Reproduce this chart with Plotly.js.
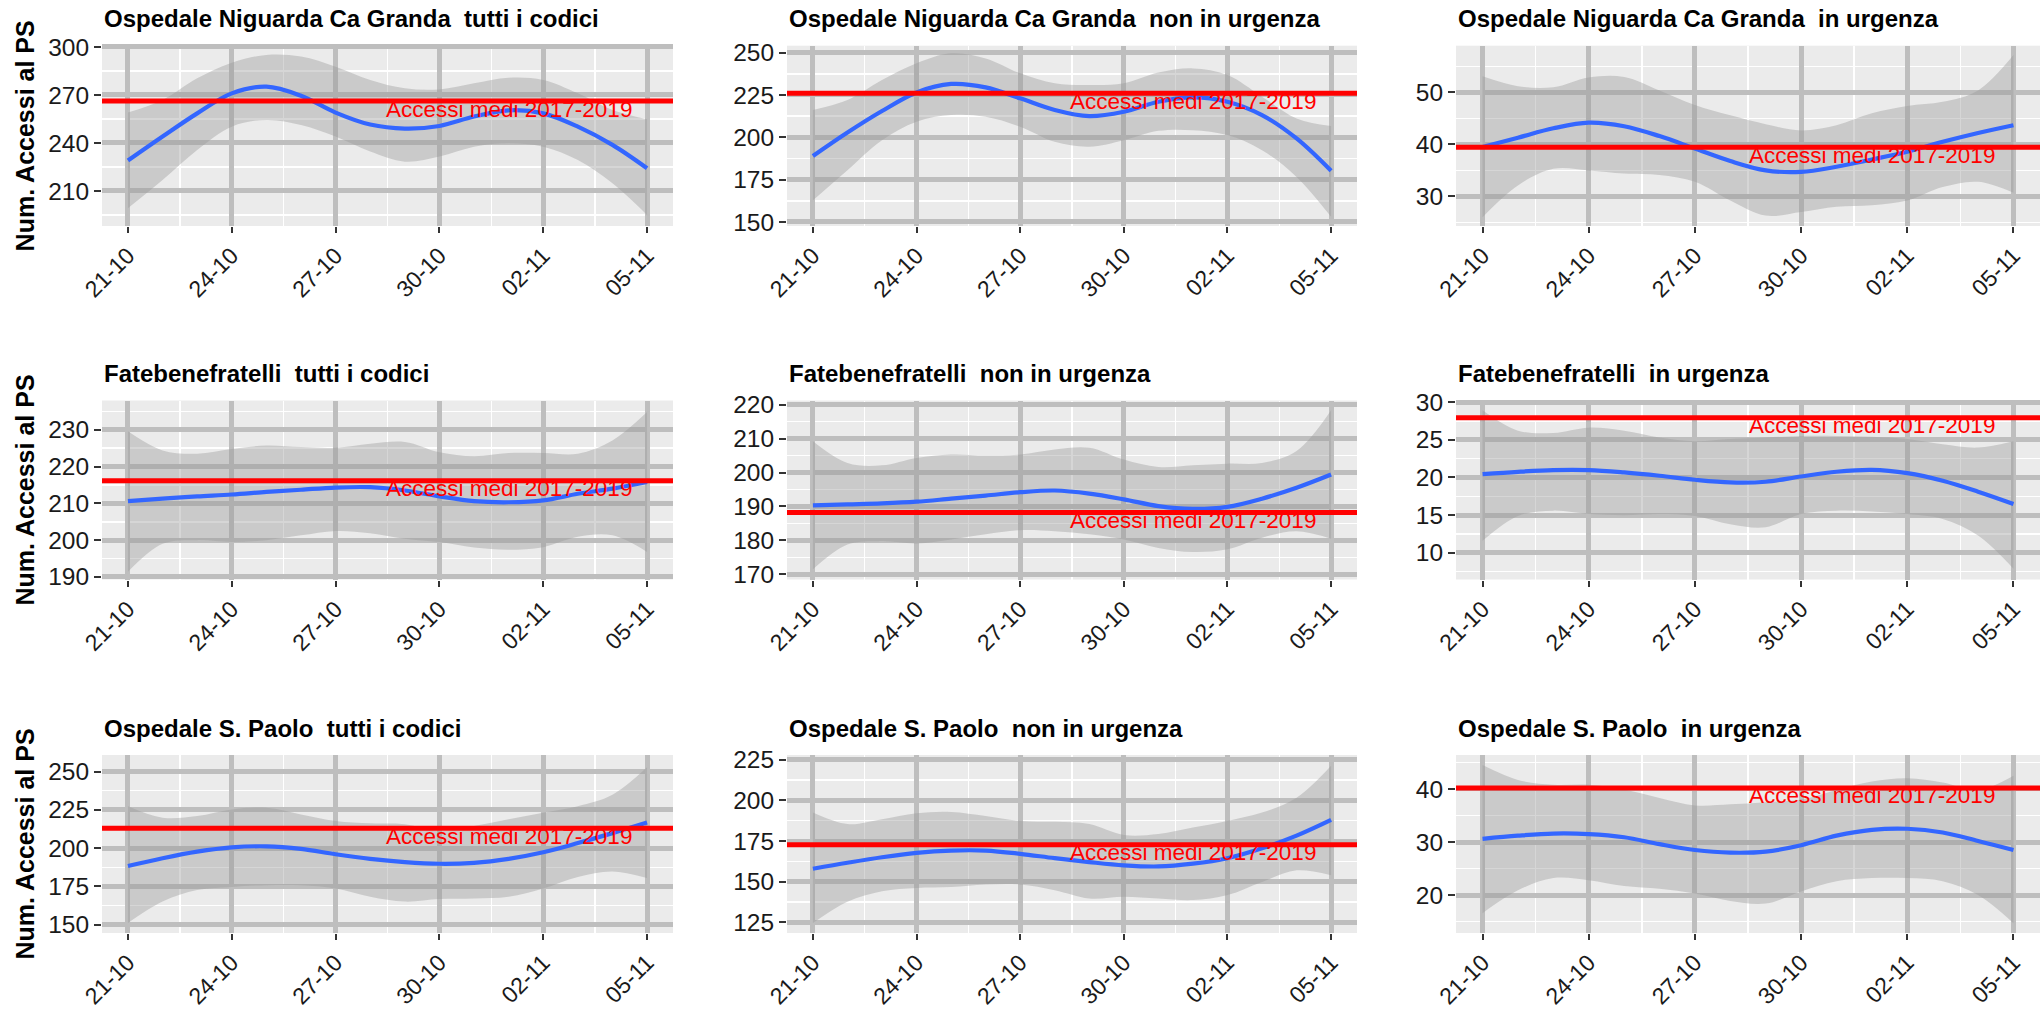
<!DOCTYPE html>
<html><head><meta charset="utf-8">
<script src="https://cdn.plot.ly/plotly-3.0.1.min.js"></script>
<style>html,body{margin:0;padding:0;background:#fff}#chart{width:2042px;height:1011px}</style>
</head><body><div id="chart"></div>
<script>
// ---------- data ----------
const dates = ['2020-10-21','2020-10-22','2020-10-23','2020-10-24','2020-10-25','2020-10-26','2020-10-27','2020-10-28',
               '2020-10-29','2020-10-30','2020-10-31','2020-11-01','2020-11-02','2020-11-03','2020-11-04','2020-11-05'];
const hospitals = ['Ospedale Niguarda Ca Granda', 'Fatebenefratelli', 'Ospedale S. Paolo'];
const codes = ['tutti i codici', 'non in urgenza', 'in urgenza'];
const refLabel = 'Accessi medi 2017-2019';
const refLabelDate = '2020-11-01';
const yAxisTitle = 'Num. Accessi al PS';

// Niguarda
const nigTuttiFit = [229, 244, 258.5, 271, 275.2, 269.5, 259, 251.5, 249, 250.6, 256.5, 260.4, 258.5, 250.2, 238.8, 224.2];
const nigTuttiHi  = [259, 266.9, 280.4, 290.2, 295, 294, 287.7, 279.4, 274.2, 273.5, 277.3, 280.8, 279.4, 271, 260.6, 254.8];
const nigTuttiLo  = [199.2, 216.8, 235.6, 250.2, 254.4, 251.2, 244, 234.6, 228.3, 231.5, 237.7, 239.8, 237.7, 229.4, 214.8, 195];
const nigTuttiRef = 266.2;

const nigNonFit = [188.9, 202.8, 215.5, 226.5, 231.5, 229.5, 223, 216.1, 212.5, 215.1, 221, 223.6, 221, 213.1, 199.3, 180.2];
const nigNonHi  = [216.1, 222, 233.8, 243.7, 249.6, 246.6, 237.8, 231.9, 230.9, 231.9, 238.2, 240.7, 236.8, 224, 211.1, 206.6];
const nigNonLo  = [162.8, 180.6, 198.3, 209.2, 213.1, 212.1, 206.2, 197.3, 194.4, 198.3, 203.8, 204.2, 201.3, 192.4, 176.6, 153];
const nigNonRef = 226.0;

const nigUrgFit = [39.5, 41.3, 43.1, 44.2, 43.5, 41.6, 39.2, 36.8, 35, 34.7, 35.7, 37.1, 38.6, 40.5, 42.2, 43.7];
const nigUrgHi  = [53.1, 51.2, 51, 52.9, 53, 50.4, 47.6, 45.6, 43.9, 42.7, 43.7, 46, 47.4, 48.2, 50.4, 57.2];
const nigUrgLo  = [26, 32.1, 35.3, 35, 34.4, 34.1, 32.8, 29.2, 26.3, 27, 28, 28.3, 29.2, 31.8, 32.8, 30.7];
const nigUrgRef = 39.45;

// Fatebenefratelli
const fbfTuttiFit = [210.6, 211.3, 211.9, 212.4, 213.1, 213.7, 214.3, 214.4, 213.5, 211.9, 210.6, 210.3, 210.8, 212.6, 214, 215.8];
const fbfTuttiHi  = [229.6, 224.4, 223.5, 224.8, 225.7, 225.3, 225.1, 226.2, 226.7, 223.9, 222.8, 223.7, 223.7, 223.5, 227.1, 234.8];
const fbfTuttiLo  = [191.4, 199, 200, 199.5, 200, 201.3, 202.5, 201.9, 200.4, 199.5, 198, 197.4, 198.1, 200.9, 201.3, 196.8];
const fbfTuttiRef = 216.15;

const fbfNonFit = [190.3, 190.6, 190.9, 191.4, 192.3, 193.2, 194.2, 194.7, 193.8, 192.1, 190.1, 189.3, 189.9, 192.3, 195.5, 199.4];
const fbfNonHi  = [209.2, 202.8, 202.1, 204.3, 205.3, 205, 205.3, 206.8, 207.3, 203.8, 201.6, 202.1, 202.6, 202.8, 206.3, 218.3];
const fbfNonLo  = [171.5, 178.8, 179.8, 179.1, 180.3, 181.8, 183, 182.7, 181.8, 180.3, 177.8, 176.6, 177.4, 180.8, 182.7, 180.5];
const fbfNonRef = 188.2;

const fbfUrgFit = [20.44, 20.75, 20.97, 20.97, 20.66, 20.22, 19.69, 19.34, 19.43, 20.13, 20.75, 21.01, 20.57, 19.56, 18.11, 16.48];
const fbfUrgHi  = [28.9, 26.2, 25.9, 26.6, 26.2, 25.3, 24.8, 25.1, 25.3, 25.5, 25.5, 25.4, 25.1, 24.4, 23.96, 24.8];
const fbfUrgLo  = [11.6, 14.9, 15.6, 15.15, 15, 15.15, 14.9, 13.8, 13.4, 15.15, 15.6, 15.5, 15.15, 14.5, 12.3, 7.9];
const fbfUrgRef = 27.9;

// S. Paolo
const spTuttiFit = [188.3, 193.4, 197.7, 200.5, 201.2, 199.5, 196, 193, 190.9, 189.8, 190.4, 193, 197.3, 203.3, 209.8, 216.7];
const spTuttiHi  = [227.4, 219.9, 221, 225.3, 226.3, 222, 217.7, 216.2, 215.6, 211.3, 214.5, 218.8, 223.1, 227.4, 234.9, 252.8];
const spTuttiLo  = [151.1, 165.1, 172.6, 174.7, 175.8, 175.8, 173.7, 168.3, 165.1, 166.8, 167.2, 168.3, 173.7, 181.2, 184.8, 180.5];
const spTuttiRef = 213.0;

const spNonFit = [157.9, 161.6, 165, 167.7, 169.1, 169.1, 167.1, 164.4, 162, 160, 159.3, 161, 164.4, 170.5, 178.3, 188];
const spNonHi  = [192.5, 185.4, 188.4, 192.1, 192.9, 190.4, 187.4, 186.8, 185.4, 178.7, 179.3, 183.3, 187.4, 192.5, 201.6, 221.3];
const spNonLo  = [124.4, 137.6, 144.1, 146.1, 146.7, 148.2, 148.2, 144.7, 139.6, 140.7, 139.6, 138.6, 141.7, 149.8, 156.9, 153.9];
const spNonRef = 172.7;

const spUrgFit = [30.6, 31.2, 31.6, 31.5, 30.9, 29.6, 28.5, 28, 28.2, 29.4, 31.2, 32.3, 32.5, 31.8, 30.2, 28.5];
const spUrgHi  = [44.5, 41.7, 40.8, 40.8, 39.9, 38.3, 36.9, 37.1, 37.5, 38, 39.8, 41.4, 42, 41.2, 39.8, 42.5];
const spUrgLo  = [16.6, 20.9, 23.2, 22.8, 21.7, 21.2, 20.3, 18.9, 18.4, 20.7, 22.6, 23.2, 23.2, 22.6, 20, 14.7];
const spUrgRef = 40.2;

// ---------- panel table (built from the arrays above) ----------
const panels = [
  {h:0, c:0, fit:nigTuttiFit, hi:nigTuttiHi, lo:nigTuttiLo, ref:nigTuttiRef, range:[188.1,300.8], dtick:30},
  {h:0, c:1, fit:nigNonFit,   hi:nigNonHi,   lo:nigNonLo,   ref:nigNonRef,   range:[147.6,254.1], dtick:25},
  {h:0, c:2, fit:nigUrgFit,   hi:nigUrgHi,   lo:nigUrgLo,   ref:nigUrgRef,   range:[24.3,59.0],   dtick:10},
  {h:1, c:0, fit:fbfTuttiFit, hi:fbfTuttiHi, lo:fbfTuttiLo, ref:fbfTuttiRef, range:[189.3,237.96],dtick:10},
  {h:1, c:1, fit:fbfNonFit,   hi:fbfNonHi,   lo:fbfNonLo,   ref:fbfNonRef,   range:[168.5,221.2], dtick:10},
  {h:1, c:2, fit:fbfUrgFit,   hi:fbfUrgHi,   lo:fbfUrgLo,   ref:fbfUrgRef,   range:[6.47,30.2],   dtick:5},
  {h:2, c:0, fit:spTuttiFit,  hi:spTuttiHi,  lo:spTuttiLo,  ref:spTuttiRef,  range:[144.6,260.8], dtick:25},
  {h:2, c:1, fit:spNonFit,    hi:spNonHi,    lo:spNonLo,    ref:spNonRef,    range:[118.3,228.0], dtick:25},
  {h:2, c:2, fit:spUrgFit,    hi:spUrgHi,    lo:spUrgLo,    ref:spUrgRef,    range:[12.86,46.4],  dtick:10}
];

// ---------- layout geometry (pixels) ----------
const W = 2042, H = 1011;
const colPx = [[102, 673], [787, 1357], [1456, 2040]];
const rowPx = [[45.7, 226], [400.5, 579.5], [755, 933]];
const FONT = 'Liberation Sans, Arial, Helvetica, sans-serif';
const DAY = 86400000;

const traces = [];
const layout = {
  width: W, height: H,
  margin: {l: 0, r: 0, t: 0, b: 0, pad: 0},
  paper_bgcolor: '#ffffff',
  plot_bgcolor: '#EBEBEB',
  showlegend: false,
  font: {family: FONT, color: '#1a1a1a'},
  shapes: [],
  annotations: []
};

panels.forEach((p, i) => {
  const k = i === 0 ? '' : String(i + 1);
  const xa = 'x' + k, ya = 'y' + k;
  const row = p.h, col = p.c;

  traces.push({
    type: 'scatter', mode: 'lines', x: dates, y: p.lo, xaxis: xa, yaxis: ya,
    line: {width: 0, shape: 'spline', smoothing: 1}, hoverinfo: 'skip'
  });
  traces.push({
    type: 'scatter', mode: 'lines', x: dates, y: p.hi, xaxis: xa, yaxis: ya,
    fill: 'tonexty', fillcolor: 'rgba(153,153,153,0.4)',
    line: {width: 0, shape: 'spline', smoothing: 1}, hoverinfo: 'skip'
  });
  traces.push({
    type: 'scatter', mode: 'lines', x: dates, y: p.fit, xaxis: xa, yaxis: ya,
    line: {color: '#3366FF', width: 4.2, shape: 'spline', smoothing: 1}
  });

  layout['xaxis' + k] = {
    domain: [colPx[col][0] / W, colPx[col][1] / W],
    anchor: ya,
    type: 'date',
    range: ['2020-10-20 06:00', '2020-11-05 18:00'],
    tick0: '2020-10-21', dtick: 3 * DAY, tickformat: '%d-%m',
    tickangle: -45,
    ticks: 'outside', ticklen: 6, tickwidth: 2, tickcolor: '#333333',
    tickfont: {family: FONT, size: 23, color: '#1a1a1a'},
    showgrid: true, gridcolor: '#BEBEBE', gridwidth: 5,
    minor: {tick0: '2020-10-22 12:00', dtick: 3 * DAY, showgrid: true, gridcolor: '#FFFFFF', gridwidth: 1.5, ticks: ''},
    zeroline: false, showline: false, fixedrange: true
  };
  layout['yaxis' + k] = {
    domain: [1 - rowPx[row][1] / H, 1 - rowPx[row][0] / H],
    anchor: xa,
    range: p.range,
    tick0: 0, dtick: p.dtick,
    ticks: 'outside', ticklen: 7, tickwidth: 2, tickcolor: '#333333',
    tickfont: {family: FONT, size: 24.5, color: '#1a1a1a'},
    showgrid: true, gridcolor: '#BEBEBE', gridwidth: 5,
    minor: {tick0: p.dtick / 2, dtick: p.dtick, showgrid: true, gridcolor: '#FFFFFF', gridwidth: 1.5, ticks: ''},
    zeroline: false, showline: false, fixedrange: true
  };
  if (col === 0) {
    layout['yaxis' + k].title = {
      text: yAxisTitle, standoff: 6,
      font: {family: FONT, size: 25, color: '#000000', weight: 'bold'}
    };
  }

  layout.shapes.push({
    type: 'line', xref: xa + ' domain', x0: 0, x1: 1, yref: ya, y0: p.ref, y1: p.ref,
    line: {color: '#FF0000', width: 5}, layer: 'above'
  });

  layout.annotations.push({
    xref: xa, yref: ya, x: refLabelDate, y: p.ref, yshift: -8,
    xanchor: 'center', yanchor: 'middle', showarrow: false,
    text: refLabel, font: {family: FONT, size: 22.5, color: '#FF0000'}
  });

  layout.annotations.push({
    xref: xa + ' domain', yref: ya + ' domain', x: 0, y: 1, yshift: 27,
    xanchor: 'left', yanchor: 'middle', showarrow: false,
    text: '<b>' + hospitals[p.h] + '\u00a0 ' + codes[p.c] + '</b>',
    font: {family: FONT, size: 24, color: '#000000'}
  });
});

Plotly.newPlot('chart', traces, layout, {displayModeBar: false, staticPlot: true});
</script>
</body></html>
